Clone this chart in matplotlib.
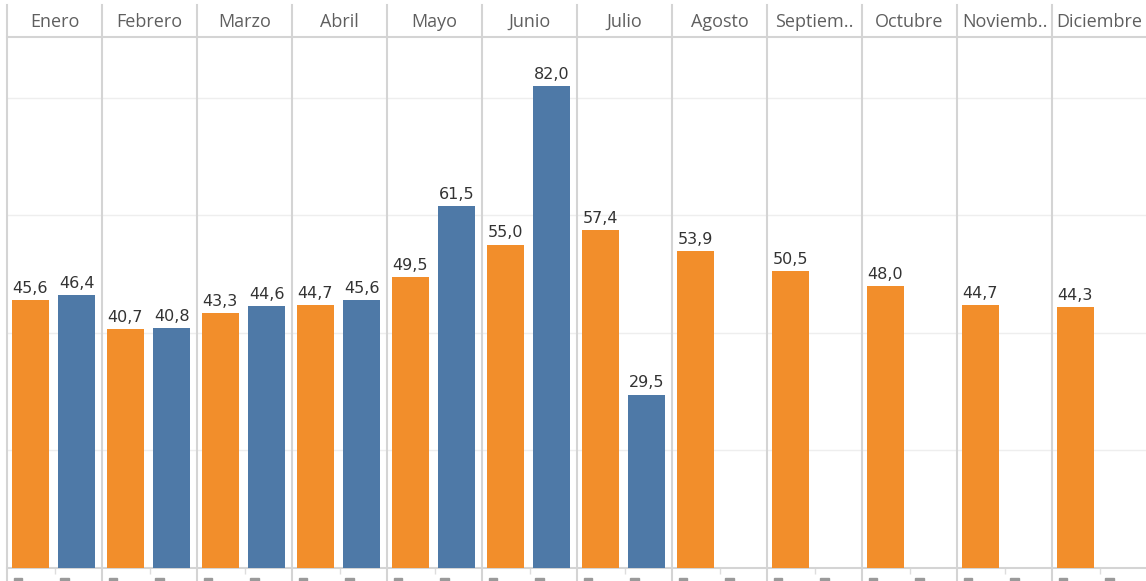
import numpy as np
import matplotlib.pyplot as plt
import matplotlib.transforms as mtransforms
from matplotlib.patches import Rectangle

meses = ['Enero', 'Febrero', 'Marzo', 'Abril', 'Mayo', 'Junio', 'Julio',
         'Agosto', 'Septiem..', 'Octubre', 'Noviemb..', 'Diciembre']
serie_a = [45.6, 40.7, 43.3, 44.7, 49.5, 55.0, 57.4, 53.9, 50.5, 48.0, 44.7, 44.3]
serie_b = [46.4, 40.8, 44.6, 45.6, 61.5, 82.0, 29.5]

naranja = '#F28E2B'
azul = '#4E79A7'
gris_linea = '#d4d4d4'

plt.rcParams['font.family'] = ['Open Sans', 'DejaVu Sans']

W, H = 1146, 581
fig = plt.figure(figsize=(W / 100, H / 100), dpi=100)
# main plot area in pixels: x 7..1147, y 37..568
ax = fig.add_axes([7 / W, 13 / H, 1140 / W, 531 / H])

x = np.arange(len(meses))
off_a, off_b, ancho = -0.255, 0.235, 0.39

ax.bar(x + off_a, serie_a, width=ancho, color=naranja, zorder=3)
xb = np.arange(len(serie_b))
ax.bar(xb + off_b, serie_b, width=ancho, color=azul, zorder=3)

def etiqueta(xs, vals):
    for xi, v in zip(xs, vals):
        ax.annotate(f'{v:.1f}'.replace('.', ','), (xi, v), xytext=(0, 3),
                    textcoords='offset points', ha='center', va='bottom',
                    fontsize=11.5, family='DejaVu Sans', color='#333333', zorder=4)

etiqueta(x + off_a, serie_a)
etiqueta(xb + off_b, serie_b)

ax.set_xlim(-0.5, 11.5)
ax.set_ylim(0, 90.3)
ax.set_yticks([20, 40, 60, 80])
ax.yaxis.grid(True, color='#eeeeee', lw=1, zorder=0)
ax.tick_params(axis='y', length=0, labelleft=False)
ax.set_xticks(x)
ax.tick_params(axis='x', length=4.5, width=1, color='#dddddd', labelbottom=False)

for lado in ['left', 'right']:
    ax.spines[lado].set_visible(False)
for lado in ['top', 'bottom']:
    ax.spines[lado].set_color(gris_linea)
    ax.spines[lado].set_linewidth(1.5)

# panel separators run from the header top down to the figure edge
trans = mtransforms.blended_transform_factory(ax.transData, fig.transFigure)
for k in range(len(meses) + 1):
    ax.plot([k - 0.5, k - 0.5], [0, (H - 5) / H], transform=trans,
            color=gris_linea, lw=1.5, clip_on=False, zorder=5)

# month headers
for xi, nombre in zip(x, meses):
    ax.text(xi, (H - 22) / H, nombre, transform=trans, ha='center', va='center',
            fontsize=13, color='#5f5f5f')

# tops of the cut-off axis labels at the bottom edge
for xi in x:
    for o in (off_a, off_b):
        ax.add_patch(Rectangle((xi + o - ancho / 2 + 0.02, 0), 0.09, 3 / H,
                               transform=trans, color='#9a9a9a', clip_on=False))

fig.savefig('out.png', dpi=100)
